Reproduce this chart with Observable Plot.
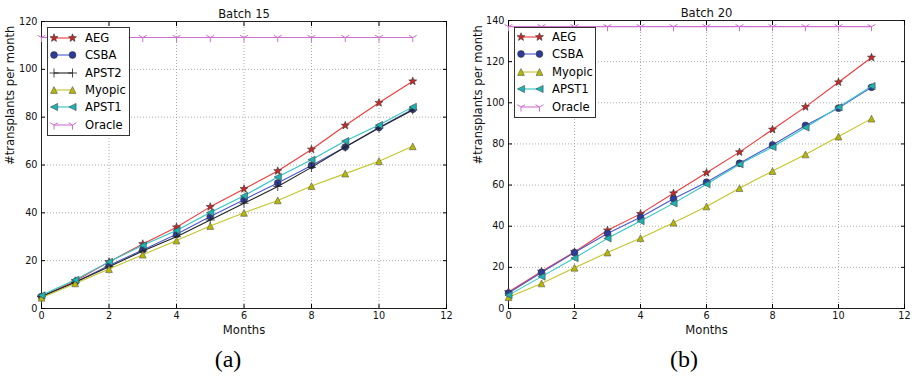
<!DOCTYPE html>
<html>
<head>
<meta charset="utf-8">
<script src="https://cdn.jsdelivr.net/npm/d3@7"></script>
<script src="https://cdn.jsdelivr.net/npm/@observablehq/plot@0.6"></script>
<style>
  body { margin: 0; background: #fff; width: 912px; height: 378px; overflow: hidden; position: relative; font-family: "DejaVu Sans", sans-serif; }
  .panel { position: absolute; top: 0; }
  .caption { position: absolute; top: 347px; width: 456px; text-align: center; font-family: "Liberation Serif", serif; font-size: 24px; line-height: 24px; }
  .legend { position: absolute; border: 1px solid #333; background: #fff; box-sizing: border-box; }
  .row { position: absolute; left: 0; height: 16px; line-height: 16px; font-size: 11.6px; white-space: nowrap; }
  .row svg { position: absolute; left: 0; top: 0; }
  .row span { position: absolute; left: 37px; top: 0; }
</style>
</head>
<body>
<script>
// ---------- data ----------
const months = [0, 1, 2, 3, 4, 5, 6, 7, 8, 9, 10, 11];
const xTicks = [0, 2, 4, 6, 8, 10, 12];
const yTicks15 = [0, 20, 40, 60, 80, 100, 120];
const yTicks20 = [0, 20, 40, 60, 80, 100, 120, 140];

// Batch 15
const b15_AEG    = [5, 11.5, 19.5, 27, 34, 42.5, 50, 57.5, 66.5, 76.5, 86, 95];
const b15_CSBA   = [5, 11, 18, 24.5, 31, 38.5, 45.5, 52.5, 59.8, 67.5, 75.7, 83.3];
const b15_APST2  = [5, 11, 17.5, 24, 30, 37, 44, 51, 59, 67.5, 75.5, 83];
const b15_Myopic = [4.5, 10.5, 16.5, 22.5, 28.4, 34.5, 40, 45.2, 51.2, 56.4, 61.6, 67.8];
const b15_APST1  = [5.5, 12, 19.5, 26.4, 32.6, 40.1, 47.1, 55, 62.2, 70, 76.7, 84.3];
const b15_Oracle = [113.3, 113.3, 113.3, 113.3, 113.3, 113.3, 113.3, 113.3, 113.3, 113.3, 113.3, 113.3];

// Batch 20
const b20_AEG    = [8, 18, 27.5, 38, 46, 56, 66, 76, 87, 98, 110, 122];
const b20_CSBA   = [7.5, 17.5, 27.2, 36.5, 44.4, 53.4, 61.4, 70.6, 79.5, 89, 97.4, 107.5];
const b20_Myopic = [5.5, 12.2, 19.8, 27.2, 34.2, 41.7, 49.6, 58.5, 66.8, 74.9, 83.6, 92.3];
const b20_APST1  = [6.5, 15.5, 24.5, 34.1, 42.5, 51.1, 60.4, 70.1, 78.5, 88, 97.8, 108.1];
const b20_Oracle = [137, 137, 137, 137, 137, 137, 137, 137, 137, 137, 137, 137];

// ---------- marker shapes ----------
const half = size => Math.sqrt(size / Math.PI);
const symStar = { draw(c, size) { const R = half(size), r = R * 0.42;
  for (let i = 0; i < 10; i++) { const a = -Math.PI / 2 + i * Math.PI / 5, rr = i % 2 ? r : R;
    const px = rr * Math.cos(a), py = rr * Math.sin(a); i ? c.lineTo(px, py) : c.moveTo(px, py); }
  c.closePath(); } };
const symCircle = { draw(c, size) { const r = half(size); c.moveTo(r, 0); c.arc(0, 0, r, 0, 2 * Math.PI); } };
const symPlus = { draw(c, size) { const r = half(size); c.moveTo(-r, 0); c.lineTo(r, 0); c.moveTo(0, -r); c.lineTo(0, r); } };
const symTriUp = { draw(c, size) { const h = half(size); c.moveTo(0, -h); c.lineTo(h, h); c.lineTo(-h, h); c.closePath(); } };
const symTriLeft = { draw(c, size) { const h = half(size); c.moveTo(-h, 0); c.lineTo(h, -h); c.lineTo(h, h); c.closePath(); } };
const symTriDown = { draw(c, size) { const h = half(size);
  c.moveTo(0, 0); c.lineTo(0, h); c.moveTo(0, 0); c.lineTo(-0.866 * h, -0.5 * h); c.moveTo(0, 0); c.lineTo(0.866 * h, -0.5 * h); } };

const styles = {
  AEG:    { line: "#f03a3a", fill: "#c82828", stroke: "#333", sym: symStar, r: 4.2, sw: 0.6 },
  CSBA:   { line: "#4a58d0", fill: "#2c3c98", stroke: "#333", sym: symCircle, r: 3.4, sw: 0.6 },
  APST2:  { line: "#222222", fill: "none", stroke: "#222", sym: symPlus, r: 4.5, sw: 0.8 },
  Myopic: { line: "#c4c42a", fill: "#b8b800", stroke: "#555", sym: symTriUp, r: 3.4, sw: 0.6 },
  APST1:  { line: "#30c4c4", fill: "#1cb4b4", stroke: "#444", sym: symTriLeft, r: 3.6, sw: 0.6 },
  Oracle: { line: "#d070d0", fill: "none", stroke: "#d070d0", sym: symTriDown, r: 4.6, sw: 1 }
};

function panel({ series, yMax, yTicks, title, left, mL, mR, mT, yLabDx }) {
  const marks = [
    Plot.gridX(xTicks, { stroke: "#888", strokeOpacity: 1, strokeWidth: 0.7, strokeDasharray: "1,2" }),
    Plot.gridY(yTicks, { stroke: "#888", strokeOpacity: 1, strokeWidth: 0.7, strokeDasharray: "1,2" }),
    Plot.frame({ stroke: "#222", strokeWidth: 1 }),
    Plot.axisX(xTicks, { anchor: "bottom", tickSize: 0, tickPadding: 4, fontSize: 9.7, label: null, fill: "#111" }),
    Plot.axisY(yTicks, { anchor: "left", tickSize: 0, tickPadding: 4, fontSize: 9.7, label: null, fill: "#111" }),
    Plot.axisX(xTicks, { anchor: "bottom", tickSize: -4, tickFormat: () => "", label: null }),
    Plot.axisX(xTicks, { anchor: "top", tickSize: -4, tickFormat: () => "", label: null }),
    Plot.axisY(yTicks, { anchor: "left", tickSize: -4, tickFormat: () => "", label: null }),
    Plot.axisY(yTicks, { anchor: "right", tickSize: -4, tickFormat: () => "", label: null })
  ];
  for (const s of series) {
    const st = styles[s.name];
    const rows = months.map((m, i) => ({ month: m, value: s.values[i] }));
    marks.push(Plot.line(rows, { x: "month", y: "value", stroke: st.line, strokeWidth: 1.1 }));
    marks.push(Plot.dot(rows, { x: "month", y: "value", symbol: st.sym, r: st.r, fill: st.fill, stroke: st.stroke, strokeWidth: st.sw }));
  }
  marks.push(Plot.text([title], { frameAnchor: "top", dy: -4, lineAnchor: "bottom", fontSize: 11.6, fill: "#111" }));
  marks.push(Plot.text(["Months"], { frameAnchor: "bottom", dy: 22, lineAnchor: "middle", fontSize: 11.6, fill: "#111" }));
  marks.push(Plot.text(["#transplants per month"], { frameAnchor: "left", dx: yLabDx, rotate: -90, lineAnchor: "middle", fontSize: 11.6, fill: "#111" }));
  const chart = Plot.plot({
    width: 456, height: 345,
    marginLeft: mL, marginRight: mR, marginTop: mT, marginBottom: 37,
    style: { fontFamily: "DejaVu Sans, sans-serif", background: "transparent", overflow: "visible" },
    x: { domain: [0, 12] },
    y: { domain: [0, yMax] },
    marks
  });
  const div = document.createElement("div");
  div.className = "panel";
  div.style.left = left + "px";
  div.appendChild(chart);
  document.body.appendChild(div);
}

function legend(names, left, top, width, height, offset) {
  const box = document.createElement("div");
  box.className = "legend";
  Object.assign(box.style, { left: left + "px", top: top + "px", width: width + "px", height: height + "px" });
  names.forEach((n, i) => {
    const st = styles[n];
    const row = document.createElement("div");
    row.className = "row";
    row.style.top = (offset + i * 17.4 - 8) + "px";
    row.style.width = (width - 2) + "px";
    const svg = d3.create("svg").attr("width", 34).attr("height", 16);
    svg.append("line").attr("x1", 6).attr("x2", 24.5).attr("y1", 8).attr("y2", 8).attr("stroke", st.line).attr("stroke-width", 1.1);
    for (const x of [6, 24.5]) {
      svg.append("path").attr("d", d3.symbol(st.sym, st.r * st.r * Math.PI)())
        .attr("transform", `translate(${x},8)`).attr("fill", st.fill).attr("stroke", st.stroke).attr("stroke-width", st.sw);
    }
    row.appendChild(svg.node());
    const sp = document.createElement("span");
    sp.textContent = n;
    row.appendChild(sp);
    box.appendChild(row);
  });
  document.body.appendChild(box);
}

panel({
  series: [
    { name: "AEG", values: b15_AEG }, { name: "CSBA", values: b15_CSBA }, { name: "APST2", values: b15_APST2 },
    { name: "Myopic", values: b15_Myopic }, { name: "APST1", values: b15_APST1 }, { name: "Oracle", values: b15_Oracle }
  ],
  yMax: 120, yTicks: yTicks15, title: "Batch 15", left: 0, mL: 41, mR: 10, mT: 21, yLabDx: -31
});
panel({
  series: [
    { name: "AEG", values: b20_AEG }, { name: "CSBA", values: b20_CSBA },
    { name: "Myopic", values: b20_Myopic }, { name: "APST1", values: b20_APST1 }, { name: "Oracle", values: b20_Oracle }
  ],
  yMax: 140, yTicks: yTicks20, title: "Batch 20", left: 456, mL: 52, mR: 8, mT: 20, yLabDx: -30
});

legend(["AEG", "CSBA", "APST2", "Myopic", "APST1", "Oracle"], 47, 27, 83, 109, 9.7);
legend(["AEG", "CSBA", "Myopic", "APST1", "Oracle"], 514, 27, 82, 91, 9);

for (const [t, l] of [["(a)", 0], ["(b)", 456]]) {
  const c = document.createElement("div");
  c.className = "caption";
  c.style.left = l + "px";
  c.textContent = t;
  document.body.appendChild(c);
}
</script>
</body>
</html>
